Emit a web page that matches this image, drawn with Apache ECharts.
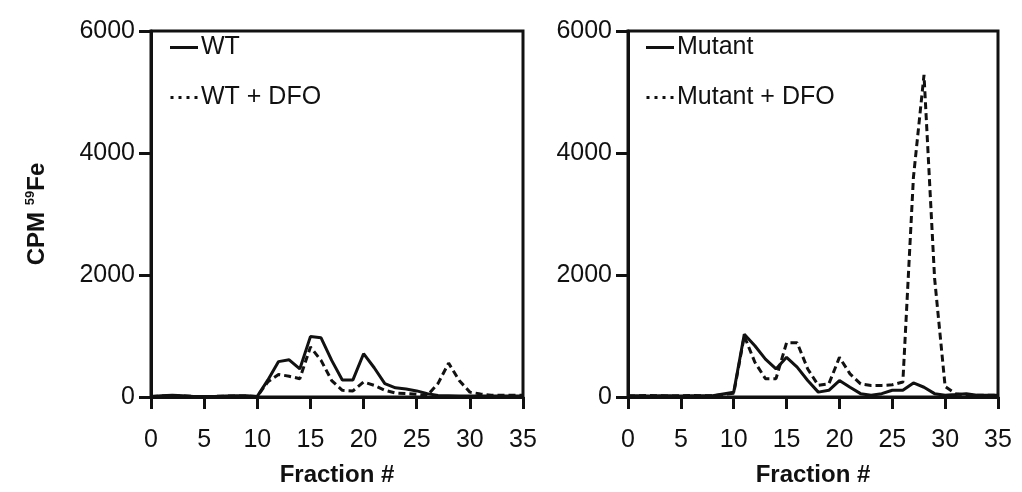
<!DOCTYPE html>
<html>
<head>
<meta charset="utf-8">
<script src="https://cdn.jsdelivr.net/npm/echarts@6/dist/echarts.min.js"></script>
<style>
  html, body { margin: 0; padding: 0; background: #fff; }
  #chart { width: 1022px; height: 492px; }
</style>
</head>
<body>
<div id="chart"></div>
<script>
// fraction numbers 0..35
const fractions = [0, 1, 2, 3, 4, 5, 6, 7, 8, 9, 10, 11, 12, 13, 14, 15, 16, 17,
  18, 19, 20, 21, 22, 23, 24, 25, 26, 27, 28, 29, 30, 31, 32, 33, 34, 35];

const wt = [10, 20, 30, 20, 10, 10, 10, 15, 20, 20, 10, 280, 580, 610, 460, 990,
  970, 600, 280, 280, 710, 480, 220, 150, 130, 100, 55, 25, 20, 15, 15, 15, 15, 15, 15, 15];
const wtDfo = [10, 15, 20, 15, 10, 10, 10, 15, 15, 15, 10, 250, 370, 340, 300, 820,
  600, 270, 110, 100, 245, 190, 110, 65, 55, 45, 25, 220, 555, 270, 80, 50, 30, 30, 30, 30];
const mutant = [20, 20, 15, 20, 20, 15, 20, 20, 20, 50, 80, 1030, 840, 620, 460, 650,
  490, 270, 80, 110, 270, 160, 55, 27, 55, 110, 110, 230, 160, 55, 27, 40, 55, 27, 30, 30];
const mutantDfo = [15, 20, 25, 20, 15, 20, 25, 20, 20, 40, 60, 1000, 570, 300, 300, 890,
  890, 460, 190, 215, 650, 380, 215, 190, 190, 200, 245, 3600, 5280, 1950, 170, 55, 30, 30, 30, 30];

const yTicks = [0, 2000, 4000, 6000];
const xTicks = [0, 5, 10, 15, 20, 25, 30, 35];

const font = "'Liberation Sans', Arial, sans-serif";
const pair = (ys) => fractions.map((f, i) => [f, ys[i]]);

// legend glyphs: short solid bar and a row of dots
const solidIcon = "path://M0,0H28V3H0Z";
const dotIcon = "path://M0,0H3V3H0Z M8,0H11V3H8Z M16,0H19V3H16Z M24,0H27V3H24Z";

function xAxisFor(gridIndex) {
  return {
    type: "value",
    gridIndex,
    min: xTicks[0],
    max: xTicks[xTicks.length - 1],
    interval: 5,
    name: "Fraction #",
    nameLocation: "middle",
    nameGap: 66,
    nameTextStyle: { fontFamily: font, fontSize: 24, fontWeight: "bold", color: "#111" },
    axisLine: { lineStyle: { color: "#111", width: 3 } },
    axisTick: { show: true, length: 12, lineStyle: { width: 3, color: "#111" } },
    axisLabel: { fontFamily: font, fontSize: 25, color: "#111", margin: 31 },
    splitLine: { show: false },
  };
}

function yAxisFor(gridIndex, withName) {
  return {
    type: "value",
    gridIndex,
    min: yTicks[0],
    max: yTicks[yTicks.length - 1],
    interval: 2000,
    name: withName ? "{b|CPM }{s|59}{b|Fe}" : "",
    nameLocation: "middle",
    nameGap: 100,
    nameRotate: 90,
    nameTextStyle: {
      rich: {
        b: { fontFamily: font, fontSize: 24, fontWeight: "bold", color: "#111" },
        s: { fontFamily: font, fontSize: 13, fontWeight: "bold", color: "#111", padding: [0, 0, 14, 0] },
      },
    },
    axisLine: { show: true, lineStyle: { color: "#111", width: 3 } },
    axisTick: { show: true, length: 12, lineStyle: { width: 3, color: "#111" } },
    axisLabel: { fontFamily: font, fontSize: 25, color: "#111", margin: 16, formatter: (v) => String(v) },
    splitLine: { show: false },
  };
}

function lineSeries(name, ys, idx, dashed) {
  return {
    name,
    type: "line",
    xAxisIndex: idx,
    yAxisIndex: idx,
    data: pair(ys),
    symbol: "none",
    animation: false,
    lineStyle: { color: "#111", width: 3, type: dashed ? [7, 4] : "solid" },
    itemStyle: { color: "#111" },
  };
}

function legendFor(names, left) {
  return {
    data: [
      { name: names[0], icon: solidIcon },
      { name: names[1], icon: dotIcon },
    ],
    orient: "vertical",
    left,
    top: 30,
    itemGap: 25,
    itemWidth: 28,
    itemHeight: 3,
    textStyle: { fontFamily: font, fontSize: 25, color: "#111", padding: [0, 0, 0, -2] },
  };
}

const chart = echarts.init(document.getElementById("chart"));
chart.setOption({
  backgroundColor: "#fff",
  animation: false,
  grid: [
    { left: 151, right: 499, top: 31, bottom: 85, show: true, borderColor: "#111", borderWidth: 3 },
    { left: 628, right: 24, top: 31, bottom: 85, show: true, borderColor: "#111", borderWidth: 3 },
  ],
  legend: [legendFor(["WT", "WT + DFO"], 165), legendFor(["Mutant", "Mutant + DFO"], 641)],
  xAxis: [xAxisFor(0), xAxisFor(1)],
  yAxis: [yAxisFor(0, true), yAxisFor(1, false)],
  series: [
    lineSeries("WT", wt, 0, false),
    lineSeries("WT + DFO", wtDfo, 0, true),
    lineSeries("Mutant", mutant, 1, false),
    lineSeries("Mutant + DFO", mutantDfo, 1, true),
  ],
});
</script>
</body>
</html>
